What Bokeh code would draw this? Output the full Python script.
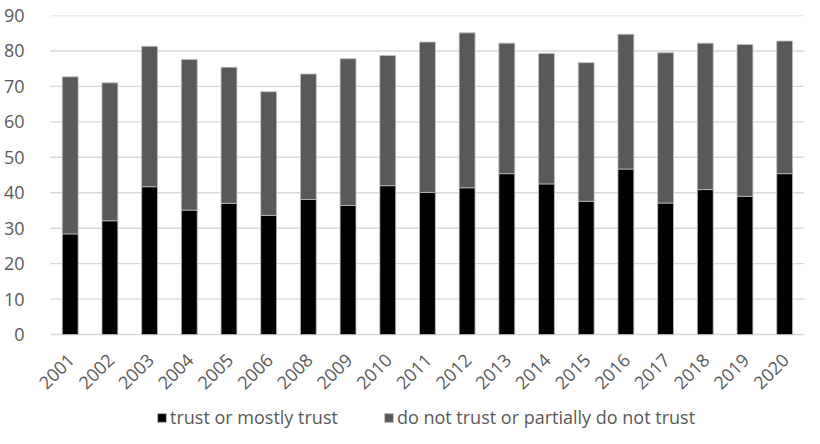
import math
from bokeh.plotting import figure
from bokeh.models import Range1d, Legend, LegendItem, FixedTicker, ColumnDataSource
from bokeh.core.properties import value
from bokeh.embed import file_html
from bokeh.resources import INLINE

years = ["2001", "2002", "2003", "2004", "2005", "2006", "2008", "2009", "2010", "2011",
         "2012", "2013", "2014", "2015", "2016", "2017", "2018", "2019", "2020"]
trust = [28.4, 32.1, 41.7, 35.1, 37.0, 33.6, 38.1, 36.4, 42.0, 40.1,
         41.4, 45.4, 42.5, 37.6, 46.7, 37.1, 40.9, 39.0, 45.4]
not_trust = [44.3, 38.9, 39.6, 42.5, 38.4, 34.9, 35.4, 41.4, 36.7, 42.4,
             43.7, 36.8, 36.8, 39.1, 38.0, 42.4, 41.3, 42.8, 37.4]
y_ticks = [0, 10, 20, 30, 40, 50, 60, 70, 80, 90]
series_names = ["trust or mostly trust", "do not trust or partially do not trust"]
colors = ["#000000", "#595959"]

FONT = "Open Sans"
TXT = "#595959"
GRID = "#d9d9d9"

n = len(years)
x = list(range(n))
LABEL_Y = -6.3   # where the rotated year labels hang, in y units below zero
src = ColumnDataSource({"x": x, "trust": trust, "not_trust": not_trust,
                        "year": years, "label_y": [LABEL_Y] * n})

# the frame extends below zero so that the year labels and the legend
# are drawn inside it
p = figure(width=804, height=428, output_backend="svg", toolbar_location=None,
           x_range=Range1d(-0.95, 18.5), y_range=Range1d(-26.5, 90))
p.min_border_left = 30
p.min_border_right = 0
p.min_border_top = 15
p.min_border_bottom = 0
p.outline_line_color = None

# horizontal gridlines spanning the category area only
p.segment(x0=-0.5, x1=18.5, y0=y_ticks, y1=y_ticks,
          line_color=GRID, line_width=1.4)

rs = p.vbar_stack(["trust", "not_trust"], x="x", width=0.4, source=src,
                  color=colors, line_color="#bfbfbf", line_width=0.8)

# category (year) labels, rotated 45 degrees like the reference
p.text(x="x", y="label_y", text="year", source=src, angle=math.pi / 4,
       text_align="right", text_baseline="middle", x_offset=1,
       text_font=value(FONT), text_font_size=value("18px"), text_color=TXT)

p.xaxis.visible = False

p.yaxis.ticker = FixedTicker(ticks=y_ticks)
p.yaxis.axis_line_color = None
p.yaxis.major_tick_line_color = None
p.yaxis.minor_tick_line_color = None
p.yaxis.major_label_standoff = 2
p.yaxis.major_label_text_font = FONT
p.yaxis.major_label_text_font_size = "18px"
p.yaxis.major_label_text_color = TXT

p.xgrid.grid_line_color = None
p.ygrid.grid_line_color = None

legend = Legend(items=[LegendItem(label=series_names[0], renderers=[rs[0]]),
                       LegendItem(label=series_names[1], renderers=[rs[1]])],
                location=(124, -1), orientation="horizontal",
                padding=0, margin=0, spacing=45, label_standoff=3,
                glyph_width=11, glyph_height=11,
                label_text_font=FONT, label_text_font_size="18px",
                label_text_color=TXT, border_line_color=None,
                background_fill_alpha=0)
p.add_layout(legend, "center")

open("out.html", "w").write(file_html(p, INLINE))
